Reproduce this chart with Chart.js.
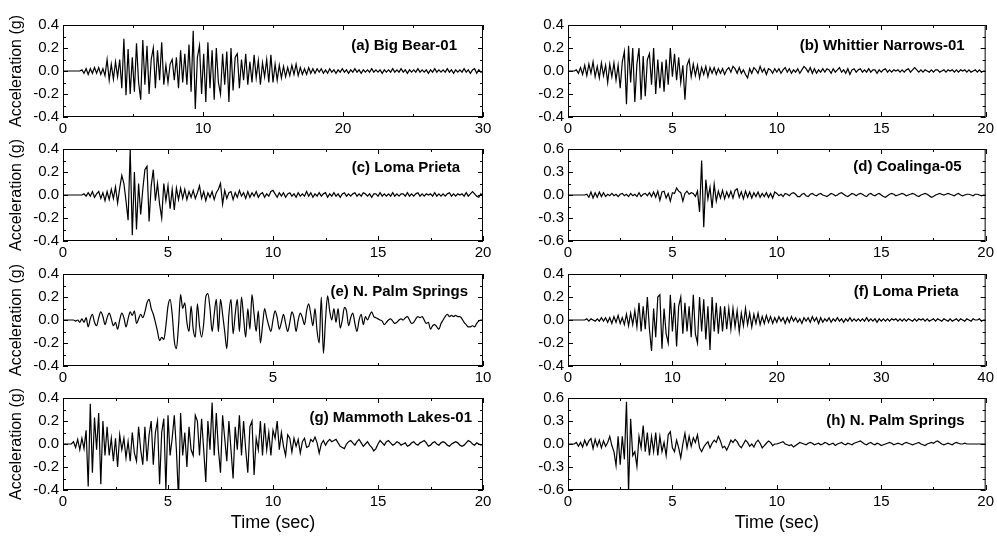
<!DOCTYPE html>
<html>
<head>
<meta charset="utf-8">
<script src="https://cdn.jsdelivr.net/npm/chart.js@4.4.1/dist/chart.umd.min.js"></script>
<style>
  html, body { margin: 0; padding: 0; background: #fff; }
  #wrap { position: relative; width: 997px; height: 536px; overflow: hidden; }
  #wrap canvas { position: absolute; }
</style>
</head>
<body>
<div id="wrap"></div>
<script>
// Panel titles, axis ranges
const panelTitles = ["(a) Big Bear-01", "(b) Whittier Narrows-01", "(c) Loma Prieta", "(d) Coalinga-05",
  "(e) N. Palm Springs", "(f) Loma Prieta", "(g) Mammoth Lakes-01", "(h) N. Palm Springs"];
const xMaxes = [30, 20, 20, 20, 10, 40, 20, 20];
const xSteps = [10, 5, 5, 5, 5, 10, 5, 5];
const yLimits = [0.4, 0.4, 0.4, 0.6, 0.4, 0.4, 0.4, 0.6];
// sampling step (sec) of the values
const timeSteps = [0.15, 0.1, 0.1, 0.1, 0.05, 0.2, 0.1, 0.1];

// Acceleration (g)
const accA = [
  0,0,0,0,0,0,0,0,0,0.01,-0.02,0.02,-0.03,0.02,-0.02,0.03,-0.02,0.03,-0.03,0.02,
  -0.04,0.1,-0.08,0.06,-0.07,0.08,-0.05,0.1,-0.15,0.28,-0.21,0.19,-0.2,0.12,-0.18,0.24,-0.1,-0.25,0.27,-0.12,
  0.22,-0.2,0.1,0.2,-0.15,0.18,-0.08,0.25,-0.12,0.05,-0.1,0.06,0.1,-0.08,0.12,-0.15,0.18,-0.1,0.15,-0.12,
  0.23,-0.18,0.35,-0.33,0.12,0.22,-0.2,0.15,-0.27,0.25,-0.15,0.18,-0.25,0.2,-0.1,-0.2,0.15,-0.12,0.17,-0.27,
  0.2,-0.17,0.12,0.15,-0.15,0.1,-0.08,0.15,-0.12,0.08,-0.1,0.14,-0.06,0.09,-0.12,0.07,-0.05,0.1,-0.1,0.14,
  -0.1,0.06,-0.08,0.05,-0.06,0.04,-0.05,0.03,-0.04,0.05,-0.03,0.06,-0.04,0.03,-0.03,0.02,-0.03,0.03,-0.02,0.02,
  -0.02,0.02,-0.01,0.02,-0.02,0.01,-0.02,0.02,-0.01,0.01,-0.02,0.01,-0.01,0.02,-0.01,0.01,-0.02,0.01,-0.01,0.02,
  -0.01,0.01,-0.02,0.01,-0.01,0.01,-0.01,0.02,-0.01,0.01,-0.01,0.01,-0.02,0.01,-0.01,0.01,-0.01,0.02,-0.01,0.01,
  -0.01,0.02,-0.01,0.01,-0.02,0.01,-0.01,0.01,-0.01,0.02,-0.01,0.01,-0.01,0.01,-0.02,0.01,-0.01,0.02,-0.01,0.01,
  -0.01,0.01,-0.01,0.02,-0.01,0.01,-0.02,0.01,-0.01,0.01,-0.01,0.02,-0.01,0.01,-0.02,0.01,0.02,-0.02,0.01,-0.01,
  0
];
const accB = [
  0,0,0,0,0.01,-0.02,0.03,-0.03,0.05,-0.04,0.06,-0.02,0.08,-0.05,0.04,-0.06,0.07,-0.04,0.05,-0.1,
  0.06,-0.05,0.07,-0.08,0.05,-0.15,0.08,0.17,-0.29,0.22,-0.1,0.2,-0.27,0.06,0.2,-0.25,0.13,-0.22,0.1,0.15,
  -0.12,0.2,-0.2,0.1,-0.15,0.08,-0.18,0.1,-0.12,0.2,-0.05,0.15,-0.08,0.12,-0.1,0.05,-0.25,0.05,0.1,-0.05,
  0.06,-0.04,0.05,-0.06,0.03,-0.03,0.04,-0.05,0.03,-0.02,0.03,-0.03,0.02,-0.02,0.02,-0.03,0.01,0.03,-0.01,0.04,
  0.02,-0.02,0.03,-0.02,0.01,-0.03,-0.06,0.02,-0.02,0.03,0.01,-0.02,0.04,-0.01,0.02,-0.03,0.02,0.01,-0.02,0.02,
  -0.01,0.02,-0.02,0.01,0.03,-0.01,0.02,-0.02,0.01,-0.01,0.02,-0.02,0.01,0.04,0.02,-0.01,0.03,-0.02,0.02,-0.02,
  0.01,-0.01,0.02,-0.01,0.02,0.01,-0.02,0.02,-0.01,0.01,0.03,-0.01,0.01,-0.02,0.02,-0.03,0.01,0.02,-0.01,0.01,
  0.02,-0.01,0.01,-0.01,0.02,-0.01,0.01,0.01,-0.02,0.01,-0.01,0.01,0.02,-0.01,0.01,-0.01,0.01,0,0.01,-0.01,
  0.01,-0.01,0.01,0.02,-0.01,0.01,0.03,0.01,-0.01,0.01,-0.01,0.01,0,-0.01,0.01,-0.01,0.01,0.01,-0.01,0,
  0.01,-0.01,0.01,0,0.01,-0.01,0.01,-0.01,0.01,0,0.01,-0.01,0.01,-0.01,0,0.01,-0.01,0.01,-0.01,0,
  0
];
const accC = [
  0,0,0,0,0,0,0,0,0,0,0.01,-0.01,0.02,-0.01,0.03,-0.02,0.01,0.03,-0.03,0.02,
  -0.05,0.03,-0.04,0.05,-0.03,0.07,-0.07,0.06,0.17,0.1,-0.05,-0.22,0.4,-0.35,0.2,-0.3,0.1,-0.17,0.05,0.22,
  0.25,-0.23,0.08,0.22,-0.05,0.1,-0.08,-0.2,0.1,-0.05,0.08,-0.12,0.05,-0.13,0.06,-0.04,0.06,-0.03,0.05,-0.04,
  0.03,-0.02,0.04,-0.03,0.02,0.08,-0.03,0.03,-0.05,0.02,-0.02,0.03,-0.04,0.02,0.05,0.1,-0.08,0.04,-0.03,0.02,
  0.03,-0.04,0.02,-0.02,0.04,-0.01,0.02,-0.03,0.03,-0.02,0.02,-0.01,0.03,-0.02,0.01,0.02,-0.02,0.01,-0.01,0.03,
  0.04,0.01,-0.02,0.02,-0.01,0.02,-0.02,0.01,0.02,-0.01,0.01,-0.02,0.02,-0.01,0.01,-0.01,0.03,-0.01,0.02,-0.02,
  0.01,-0.01,0.02,-0.01,0.01,0.02,-0.02,0.01,-0.01,0.02,-0.01,0.01,-0.02,0.01,0.02,-0.01,0.01,-0.01,0.01,0.02,
  -0.01,0.01,-0.01,0.02,0.01,-0.01,0.01,-0.02,0.01,0.01,-0.01,0.02,-0.01,0.01,-0.01,0.01,-0.01,0.02,-0.01,0.01,
  -0.01,0.01,0.01,-0.01,0.02,-0.01,0.01,-0.01,0.01,0.02,-0.01,0.01,-0.01,0.01,0,0.01,-0.01,0.02,-0.01,0.01,
  -0.01,0.01,-0.01,0.01,0.02,-0.01,0.01,-0.01,0.01,0,0.01,-0.01,0.02,-0.01,0.01,0.03,0.01,-0.01,-0.02,0.01,
  -0.01
];
const accD = [
  0,0,0,0,0,0,0,0,0,0.01,-0.03,0.04,-0.04,0.03,-0.03,0.04,-0.02,0.03,-0.02,0.01,
  -0.01,0.02,-0.01,0.01,-0.02,0.01,0.02,-0.01,0.01,-0.02,0.02,-0.01,0.01,-0.02,0.03,-0.02,0.01,0.02,-0.01,0.03,
  -0.02,0.04,-0.03,0.05,-0.07,0.04,0.05,-0.04,0.02,-0.08,0.03,0.02,0.09,0.05,0.03,-0.08,0.02,0.05,0.01,0.03,
  0.02,-0.02,0.05,-0.22,0.45,-0.42,0.2,-0.05,0.1,-0.17,0.14,-0.08,0.05,-0.04,0.06,-0.05,0.04,-0.03,0.05,-0.04,
  0.06,0.08,-0.03,0.04,-0.05,0.05,-0.03,0.04,-0.04,0.03,-0.02,0.04,-0.03,0.02,-0.02,0.03,-0.03,0.02,-0.04,0.04,
  0.02,-0.01,0.01,-0.02,0.02,0.01,-0.01,0.02,0.03,0.01,-0.02,-0.02,0.01,0.02,-0.01,-0.02,0.01,0.02,0,-0.01,
  0.01,0.02,0,-0.01,-0.02,0,0.02,0.01,-0.01,0,0.02,0.03,0.01,-0.01,-0.02,0,0.02,0.01,-0.01,0.01,
  0.02,0.01,-0.01,-0.02,0.01,0.02,0,-0.01,0.01,0.02,0,-0.02,-0.03,-0.01,0.01,0.02,0.01,-0.01,0,0.01,
  0.02,0.01,-0.01,0,0.01,0.02,0.01,-0.01,-0.02,0,0.01,0.02,0.01,-0.01,-0.03,-0.02,0,0.01,0.02,0.01,
  0,0.01,0.02,0.01,0,-0.01,0.01,0.02,0,-0.01,0,0.01,0.01,0,-0.01,0.01,0.01,0,-0.01,0,
  0
];
const accE = [
  0,0,0,0,0,0,-0.01,0,-0.02,0.01,-0.02,0.02,-0.06,0.01,0.05,-0.02,-0.05,0.02,0.07,0.03,
  -0.04,0.02,0.06,0.01,-0.05,-0.02,-0.08,0,0.06,0.02,-0.06,0.01,0.07,0.04,0.08,-0.03,0.01,0.05,0.02,0.07,
  0.15,0.18,0.1,0.05,-0.02,-0.1,-0.18,-0.15,-0.17,-0.05,0.12,0.18,0.05,-0.18,-0.25,-0.05,0.22,0.1,0.15,-0.02,
  -0.1,0.12,-0.08,-0.15,0.14,-0.05,-0.15,-0.03,0.2,0.23,0.1,-0.1,0.05,0.18,-0.1,0.18,0.05,-0.1,-0.25,0.05,
  0.18,-0.12,0.05,0.18,-0.1,0.2,0.02,-0.15,0.1,-0.08,0.22,0.05,-0.1,0.08,-0.2,-0.05,0.1,0.02,-0.05,-0.1,
  0,0.08,0.02,-0.08,-0.02,0.05,-0.03,-0.1,-0.02,0.07,0.02,-0.1,0,0.06,0.02,-0.04,0.08,0.14,0.05,-0.05,
  0.1,-0.1,-0.2,0.2,-0.29,0,0.21,0.08,0,0.1,-0.02,0.1,-0.07,0,0.11,0.08,-0.05,0.02,0.06,-0.03,
  -0.1,0,0.05,-0.04,0.03,0,0.04,0.07,0.03,0.02,0.01,0,-0.01,-0.04,-0.02,0,0.01,-0.01,-0.03,-0.02,
  0,0.01,0,0.02,0.03,0,-0.03,-0.02,0.01,0.03,0.02,0.03,0,-0.03,-0.02,-0.08,-0.05,-0.04,-0.06,-0.08,
  -0.03,0,0.03,0.05,0.03,0.04,0.03,0.04,0.03,0.03,0.01,-0.02,-0.04,-0.06,-0.06,-0.05,-0.06,-0.03,-0.01,0,
  0
];
const accF = [
  0,0,0,0,0,0,0,0,0,0.01,-0.01,0.01,0,-0.01,0.01,-0.01,0.02,-0.01,0.02,-0.02,
  0.02,-0.03,0.03,-0.02,0.04,-0.03,0.02,-0.04,0.05,-0.05,0.06,-0.04,0.08,-0.06,0.15,-0.1,0.12,-0.08,0.2,-0.08,
  -0.27,0.1,-0.15,0.2,0.22,-0.25,0.1,-0.12,-0.2,0.22,-0.1,0.15,-0.23,0.12,0.2,-0.12,0.15,-0.1,0.12,-0.15,
  0.22,-0.12,-0.2,0.2,-0.1,0.18,-0.17,0.12,-0.26,0.2,-0.1,0.15,-0.12,0.12,-0.1,0.12,-0.08,0.1,-0.08,0.1,
  -0.06,0.08,-0.1,0.06,-0.05,0.1,-0.04,0.06,-0.06,0.05,-0.03,0.06,-0.04,0.03,-0.03,0.04,-0.02,0.03,-0.03,0.02,
  -0.02,0.03,-0.01,0.02,-0.03,0.02,-0.02,0.03,-0.01,0.02,-0.02,0.01,-0.03,0.02,-0.01,0.02,-0.02,0.03,-0.01,0.02,
  -0.03,0.02,-0.02,0.01,-0.01,0.02,-0.02,0.01,-0.01,0.02,-0.01,0.01,-0.02,0.01,-0.01,0.02,-0.01,0.01,-0.01,0.01,
  -0.01,0.01,-0.01,0.02,-0.01,0.01,-0.01,0.01,-0.02,0.01,-0.01,0.01,-0.01,0.01,-0.01,0.01,0,0.01,-0.01,0.01,
  -0.01,0.01,-0.01,0.01,0,-0.01,0.01,-0.01,0.01,0,0.01,-0.01,0.01,-0.01,0,0.01,-0.01,0.01,0,-0.01,
  0.01,0,-0.01,0.01,-0.01,0,0.01,-0.01,0.01,0,-0.01,0.01,0,-0.01,0.01,0,0,0.01,-0.01,0,
  0
];
const accG = [
  0,0,0,0,0,0.02,-0.03,0.04,-0.05,0.05,-0.04,0.12,-0.37,0.35,-0.25,0.23,-0.05,0.27,-0.35,0.2,
  -0.1,0.15,-0.1,0.05,-0.15,0.05,-0.2,0.08,-0.05,0.05,-0.12,0.02,-0.15,0.1,-0.08,-0.15,0.15,-0.05,-0.18,0.15,
  -0.15,0.08,0.2,-0.18,0.1,0.2,-0.35,0.1,0.22,-0.4,0.25,-0.1,0.05,0.25,-0.05,-0.48,0.27,-0.1,0.1,-0.2,
  0.15,-0.05,-0.1,0.25,0.2,-0.1,0.22,-0.05,-0.33,0.2,-0.05,0.36,-0.1,0.27,-0.05,-0.25,0.25,0.05,-0.15,0.2,
  -0.05,-0.3,0.15,-0.05,0.25,-0.1,0.2,-0.05,-0.25,0.15,0.2,-0.27,0.05,-0.05,0.2,-0.1,0.18,-0.05,0.1,-0.1,
  0.12,0.05,0.2,-0.05,0.1,-0.02,-0.1,0.08,0.05,-0.07,0.05,-0.02,0.04,-0.08,0.02,0.05,-0.03,-0.02,0.04,0.02,
  0.06,0.01,-0.08,0,0.03,-0.01,0.02,0.04,0.02,0.03,0.04,0.01,-0.02,-0.03,-0.04,0,0.02,0.03,0.01,-0.01,
  0.02,0.04,0.01,-0.02,0,0.02,-0.01,-0.03,-0.06,-0.04,0,0.03,0.01,-0.01,0.02,0.03,0.01,-0.01,0,0.02,
  0.01,-0.01,0,0.01,-0.02,-0.01,0.01,0.02,0,-0.01,0.01,0.02,0.03,0.01,-0.02,-0.01,0.01,0.02,0,-0.01,
  0.01,0.02,0.01,-0.01,-0.02,0,0.01,0.02,0.01,-0.01,-0.02,-0.01,0.01,0.03,0.02,0,-0.01,0.01,0,-0.01,
  0
];
const accH = [
  0,0,0,0,0.02,-0.03,0.02,-0.04,0.05,-0.02,0.04,0.07,-0.06,0.06,-0.03,0.05,-0.05,0.04,-0.03,0.02,
  0.1,-0.02,-0.1,-0.28,0.1,-0.27,0.1,-0.2,0.55,-0.62,0.33,-0.15,-0.1,-0.29,0.1,-0.05,0.24,-0.1,0.15,-0.15,
  0.1,-0.1,0.15,-0.15,0.1,-0.1,0.02,-0.15,0.12,0.16,-0.05,-0.1,0.05,-0.05,-0.18,0,0.14,-0.05,0.1,-0.03,
  0.08,0.02,0.12,-0.05,-0.1,-0.04,0,0.03,-0.05,0.01,0.05,0.02,0.1,0.04,-0.05,-0.03,-0.08,-0.02,0.05,0.02,
  0.06,0.03,-0.02,-0.05,0,0.05,0.02,-0.03,0,-0.04,0.02,0.05,0.01,-0.05,-0.02,0.01,0.04,0.02,-0.02,0,
  0,0.01,0.02,0.03,0,-0.01,-0.02,-0.01,-0.04,-0.02,0,0.02,0.01,0,-0.01,0.01,0.02,0.01,-0.01,0,
  0.01,-0.01,0,0.02,0.01,-0.01,0,0.01,-0.02,0,0.01,0.02,0,-0.01,0.01,0,-0.01,0.01,0.02,0.03,
  0.04,0.02,0,-0.01,0.01,0.02,0,-0.01,0.01,0,-0.02,-0.01,0,0.01,0.02,0.01,-0.01,0,0.01,0,
  -0.01,0.01,0.02,0.01,0,-0.01,0,0.01,0.02,0,-0.01,-0.02,0,0.01,0.02,0.01,0.03,0.04,0.02,0,
  -0.01,0,0.01,0,-0.01,0.01,0.02,0.01,0,0,0.01,0,0,0,0,0,0,0,0,0,
  0
];
const records = [accA, accB, accC, accD, accE, accF, accG, accH];

// label placement inside each plot (px from right edge / top edge)
const labelDx = [26, 21, 23, 24, 15, 27, 11, 21];
const labelDy = [21, 21, 19, 18, 18, 18, 20, 23];
const rowTops = [22, 146, 271, 395];
const plotHeight = 95;

Chart.defaults.font.family = "'Liberation Sans', Arial, sans-serif";
Chart.defaults.color = "#000";

// box around the plot with inward major/minor ticks on all four sides
const framePlugin = {
  id: "frame",
  afterDatasetsDraw(chart) {
    const { ctx, chartArea: a, scales } = chart;
    const x = scales.x, y = scales.y;
    ctx.save();
    ctx.strokeStyle = "#000";
    ctx.lineWidth = 1;
    ctx.beginPath();
    const xv = x.ticks.map(t => t.value);
    const xs = xv[1] - xv[0];
    xv.forEach(v => {
      [[v, 5], [v + xs / 2, 3]].forEach(([val, len]) => {
        if (val > x.max + 1e-9) return;
        const px = Math.round(x.getPixelForValue(val)) + 0.5;
        ctx.moveTo(px, a.bottom); ctx.lineTo(px, a.bottom - len);
        ctx.moveTo(px, a.top); ctx.lineTo(px, a.top + len);
      });
    });
    const yv = y.ticks.map(t => t.value);
    const ys = yv[1] - yv[0];
    yv.forEach(v => {
      [[v, 5], [v + ys / 2, 3]].forEach(([val, len]) => {
        if (val > y.max + 1e-9) return;
        const py = Math.round(y.getPixelForValue(val)) + 0.5;
        ctx.moveTo(a.left, py); ctx.lineTo(a.left + len, py);
        ctx.moveTo(a.right, py); ctx.lineTo(a.right - len, py);
      });
    });
    ctx.stroke();
    ctx.strokeRect(a.left + 0.5, a.top + 0.5, a.width - 1, a.height - 1);
    ctx.restore();
  }
};

const labelPlugin = {
  id: "panelLabel",
  afterDraw(chart, args, opts) {
    const { ctx, chartArea: a } = chart;
    ctx.save();
    ctx.font = "bold 15px 'Liberation Sans', Arial, sans-serif";
    ctx.fillStyle = "#000";
    ctx.textAlign = "right";
    ctx.textBaseline = "middle";
    ctx.fillText(opts.text, a.right - opts.dx, a.top + opts.dy);
    ctx.restore();
  }
};

const wrap = document.getElementById("wrap");

records.forEach((acc, i) => {
  const col = i % 2;
  const row = Math.floor(i / 2);
  const bottomRow = row === 3;
  const axisH = bottomRow ? 45 : 22;
  const canvas = document.createElement("canvas");
  canvas.width = 497;
  canvas.height = 10 + plotHeight + axisH;
  canvas.style.left = (col ? 500 : 0) + "px";
  canvas.style.top = (rowTops[row] - 10) + "px";
  wrap.appendChild(canvas);

  const points = acc.map((v, k) => ({ x: +(k * timeSteps[i]).toFixed(3), y: v }));
  const lim = yLimits[i];

  new Chart(canvas, {
    type: "line",
    data: {
      datasets: [{
        data: points,
        borderColor: "#000",
        borderWidth: 1.2,
        pointRadius: 0,
        tension: 0,
        cubicInterpolationMode: i === 4 ? "monotone" : "default",
        fill: false
      }]
    },
    options: {
      responsive: false,
      animation: false,
      devicePixelRatio: 1,
      layout: { padding: { left: col ? 0 : 7, right: col ? 9 : 14, top: 10, bottom: 0 } },
      plugins: {
        legend: { display: false },
        tooltip: { enabled: false },
        panelLabel: { text: panelTitles[i], dx: labelDx[i], dy: labelDy[i] }
      },
      scales: {
        x: {
          type: "linear",
          min: 0,
          max: xMaxes[i],
          grid: { display: false, drawTicks: false },
          border: { display: false },
          ticks: { stepSize: xSteps[i], padding: 3, maxRotation: 0, autoSkip: false, font: { size: 15 } },
          title: {
            display: bottomRow,
            text: "Time (sec)",
            font: { size: 18 },
            padding: { top: 0, bottom: 1 }
          },
          afterFit: s => { s.height = axisH; }
        },
        y: {
          min: -lim,
          max: lim,
          grid: { display: false, drawTicks: false },
          border: { display: false },
          ticks: {
            stepSize: lim / 2,
            padding: 4,
            autoSkip: false,
            font: { size: 15 },
            callback: v => (Math.abs(v) < 1e-9 ? 0 : v).toFixed(1)
          },
          title: {
            display: col === 0,
            text: "Acceleration (g)",
            font: { size: 16 },
            padding: 0
          },
          afterFit: s => { s.width = col ? 68 : 56; }
        }
      }
    },
    plugins: [framePlugin, labelPlugin]
  });
});
</script>
</body>
</html>
